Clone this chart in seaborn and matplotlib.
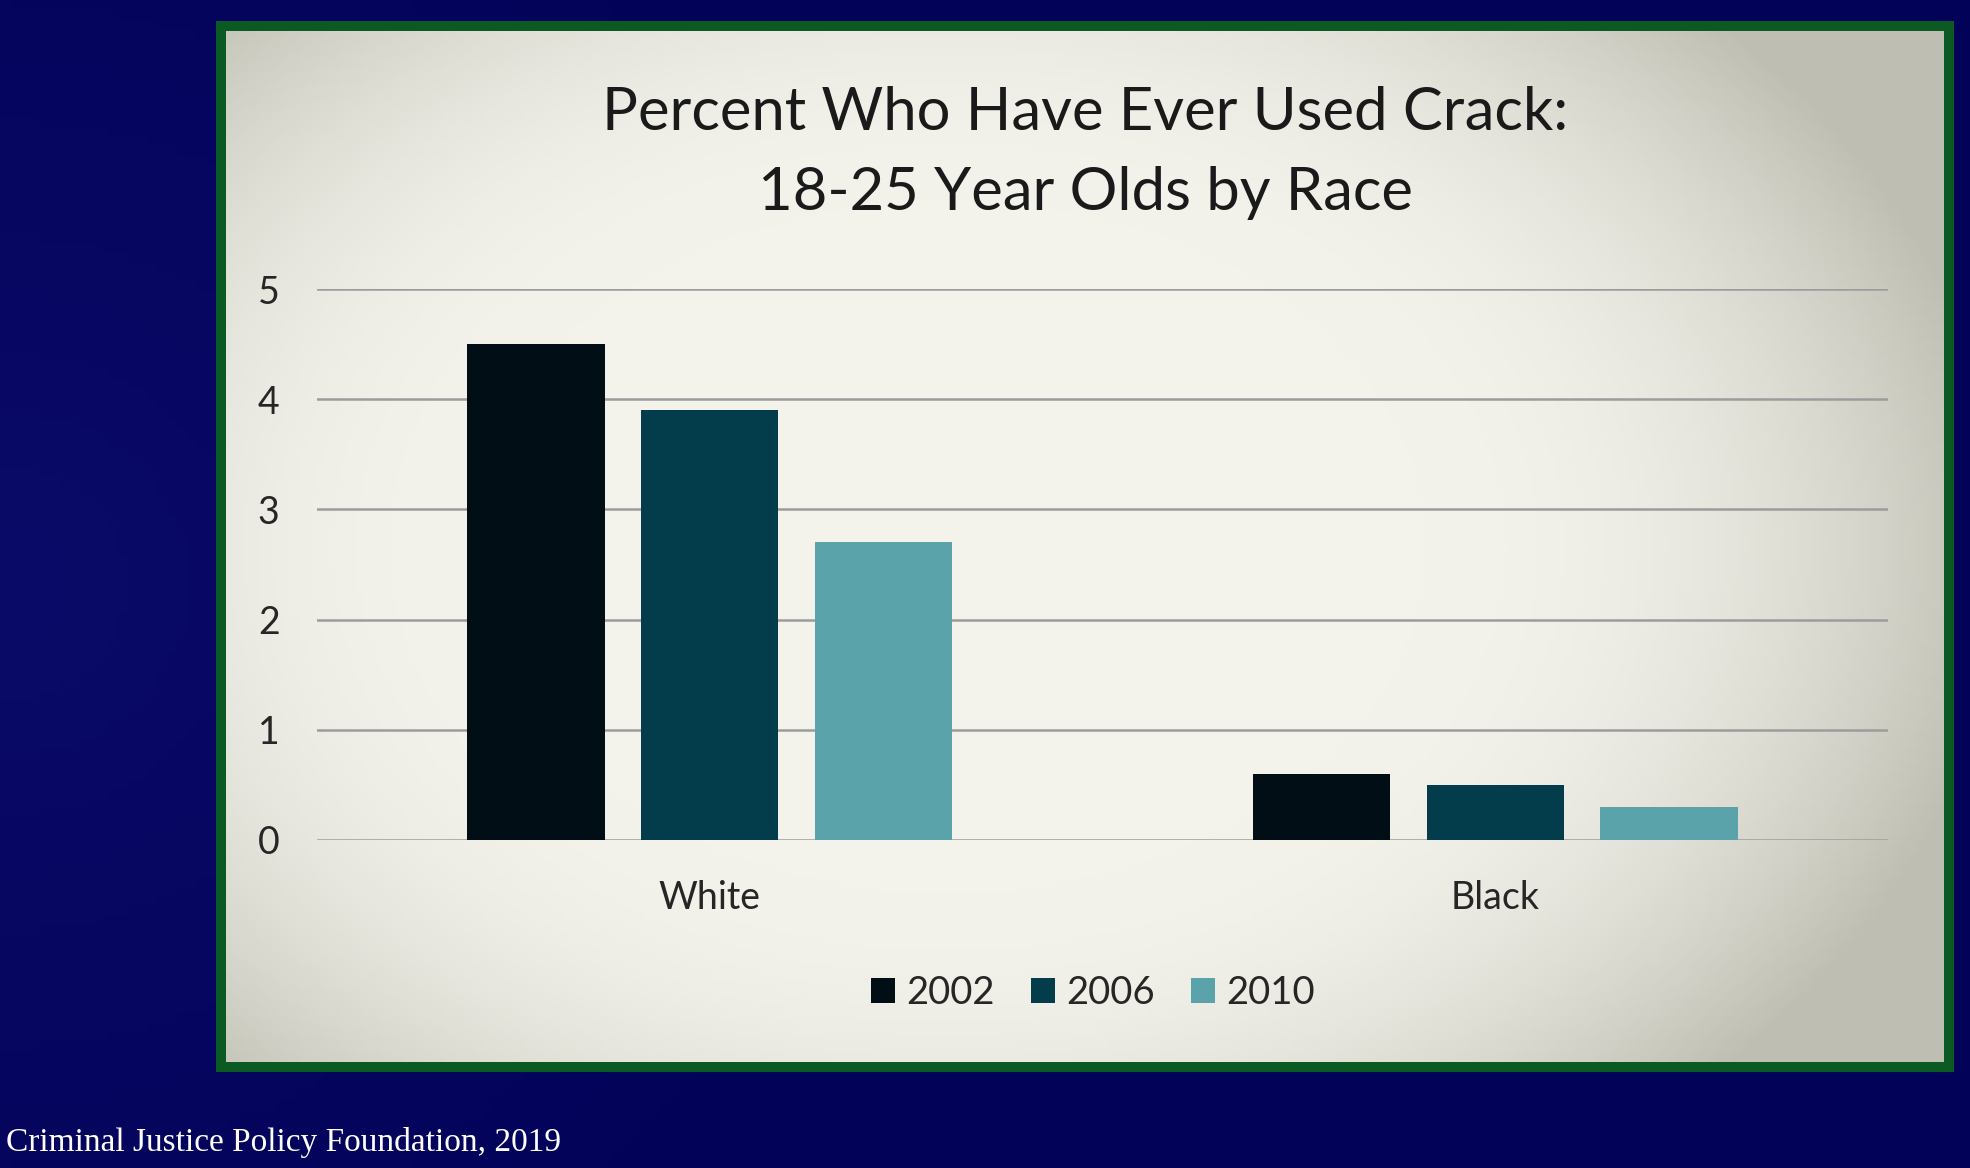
import numpy as np
import pandas as pd
import seaborn as sns
import matplotlib.pyplot as plt
from matplotlib.patches import Rectangle

# chart values
races = ['White', 'Black']
years = ['2002', '2006', '2010']
pct_2002 = [4.5, 0.6]
pct_2006 = [3.9, 0.5]
pct_2010 = [2.7, 0.3]
year_colors = ['#010e16', '#033c4b', '#5aa3aa']

df = pd.DataFrame({
    'race': races * 3,
    'year': [y for y in years for _ in races],
    'pct': pct_2002 + pct_2006 + pct_2010,
})

sns.set_theme(style='white')
plt.rcParams['font.family'] = ['Lato', 'DejaVu Sans']

W, H = 1970, 1168
fig = plt.figure(figsize=(W / 100, H / 100), dpi=100)
fig.patch.set_facecolor('#02025a')

# navy slide background
bg = fig.add_axes([0, 0, 1, 1], zorder=-10)
gx = np.linspace(0, 1, 200)
gy = np.linspace(0, 1, 120)
GX, GY = np.meshgrid(gx, gy)
shade = np.clip(1 - np.hypot((GX - 0.0) / 0.5, (GY - 0.5) / 0.8), 0, 1)
c0 = np.array([0x02, 0x02, 0x58]) / 255
c1 = np.array([0x0a, 0x0a, 0x68]) / 255
img = c0 + (c1 - c0) * shade[..., None]
bg.imshow(img, aspect='auto', extent=[0, 1, 0, 1])
bg.set_axis_off()

# green frame and cream panel
fig.patches.append(Rectangle((216 / W, 1 - 1072 / H), (1954 - 216) / W, (1072 - 21) / H,
                             transform=fig.transFigure, facecolor='#0b5a24',
                             edgecolor='none', zorder=-9))
px0, px1, py0, py1 = 226, 1944, 31, 1062
panel = fig.add_axes([px0 / W, 1 - py1 / H, (px1 - px0) / W, (py1 - py0) / H], zorder=-8)
pxg = np.linspace(0, 1, 300)
pyg = np.linspace(0, 1, 200)
PX, PY = np.meshgrid(pxg, pyg)
r = np.hypot((PX - 0.42) / 0.62, (PY - 0.5) / 0.75)
v = np.clip((r - 0.45) / 0.55, 0, 1) ** 2
p0 = np.array([0xf3, 0xf3, 0xec]) / 255
p1 = np.array([0xbe, 0xbe, 0xb2]) / 255
panel.imshow(p0 + (p1 - p0) * v[..., None], aspect='auto', extent=[0, 1, 0, 1])
panel.set_axis_off()

# main chart
ax = fig.add_axes([317 / W, 1 - 840 / H, (1888 - 317) / W, (840 - 289) / H])
ax.set_facecolor('none')
sns.barplot(data=df, x='race', y='pct', hue='year', palette=year_colors,
            width=0.664, gap=0.21, linewidth=0, saturation=1, ax=ax, legend=False)
ax.set_ylim(0, 5)
ax.set_xlim(-0.5, 1.5)
ax.set_yticks(range(6))
ax.yaxis.grid(True, color='#9c9c9c', linewidth=1.8)
ax.set_axisbelow(True)
for s in ax.spines.values():
    s.set_visible(False)
ax.tick_params(axis='y', length=0, pad=27, labelsize=27, labelcolor='#262626')
ax.tick_params(axis='x', length=0, pad=29, labelsize=27, labelcolor='#262626')
ax.set_xlabel('')
ax.set_ylabel('')

# legend
handles = [Rectangle((0, 0), 1, 1, facecolor=c, edgecolor='none') for c in year_colors]
fig.legend(handles, years, loc='center', bbox_to_anchor=(1093 / W, 1 - 993 / H), ncol=3,
           frameon=False, fontsize=27.5, handlelength=0.62, handleheight=0.62,
           handletextpad=0.3, columnspacing=0.95, labelcolor='#262626')

# title
fig.text((px0 + px1) / 2 / W, 1 - 153 / H,
         'Percent Who Have Ever Used Crack:\n18-25 Year Olds by Race',
         ha='center', va='center', fontsize=43, color='#1a1a1a', linespacing=1.58)

fig.text(6 / W, 1 - 1143 / H, 'Criminal Justice Policy Foundation, 2019',
         ha='left', va='center', fontsize=24, color='white', family='Liberation Serif')

fig.savefig('out.png', dpi=100, facecolor=fig.get_facecolor())
